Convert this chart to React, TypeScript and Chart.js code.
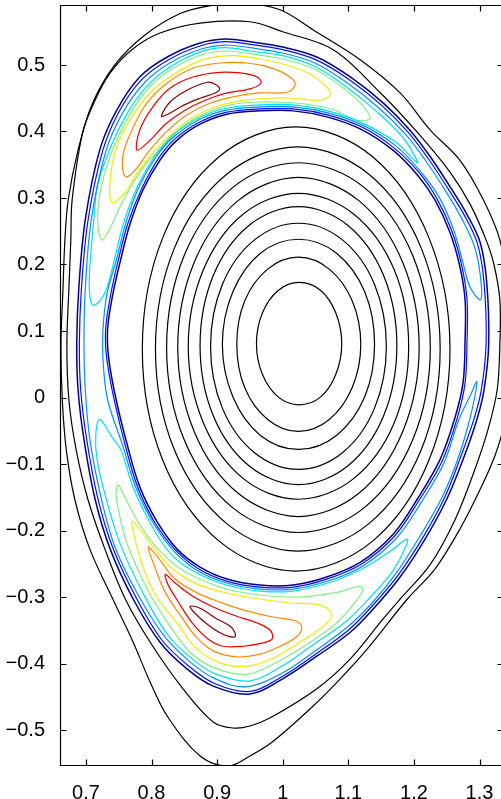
import React, { useEffect, useRef } from 'react';
import { Chart, registerables } from 'chart.js';

Chart.register(...registerables);

type Pair = [number, number];

// ---- axes ----
const xTickValues = [0.7, 0.8, 0.9, 1.0, 1.1, 1.2, 1.3];
const yTickValues = [-0.5, -0.4, -0.3, -0.2, -0.1, 0, 0.1, 0.2, 0.3, 0.4, 0.5];
const xLimits: Pair = [0.6605, 1.3358];
const yLimits: Pair = [-0.5541, 0.5902];

// ---- black flux surfaces (R, Z) ----
const surf1: Pair[] = [[1.090,0.081],[1.081,0.127],[1.058,0.161],[1.025,0.173],[0.993,0.161],[0.969,0.127],[0.960,0.081],[0.969,0.035],[0.993,0.001],[1.025,-0.011],[1.058,0.001],[1.081,0.035]];
const surf2: Pair[] = [[1.119,0.080],[1.106,0.145],[1.071,0.193],[1.024,0.211],[0.977,0.193],[0.942,0.145],[0.930,0.080],[0.942,0.015],[0.977,-0.033],[1.024,-0.051],[1.071,-0.033],[1.106,0.015]];
const surf3: Pair[] = [[1.140,0.080],[1.125,0.159],[1.082,0.217],[1.024,0.238],[0.966,0.217],[0.924,0.159],[0.908,0.080],[0.924,0.001],[0.966,-0.057],[1.024,-0.078],[1.082,-0.057],[1.125,0.001]];
const surf4: Pair[] = [[1.158,0.077],[1.140,0.170],[1.091,0.237],[1.024,0.262],[0.957,0.237],[0.908,0.170],[0.890,0.077],[0.908,-0.016],[0.957,-0.083],[1.024,-0.108],[1.091,-0.083],[1.140,-0.016]];
const surf5: Pair[] = [[1.174,0.078],[1.154,0.183],[1.099,0.259],[1.024,0.287],[0.949,0.259],[0.894,0.183],[0.874,0.078],[0.894,-0.027],[0.949,-0.103],[1.024,-0.131],[1.099,-0.103],[1.154,-0.027]];
const surf6: Pair[] = [[1.192,0.077],[1.170,0.192],[1.108,0.276],[1.024,0.307],[0.940,0.276],[0.879,0.192],[0.856,0.077],[0.879,-0.038],[0.940,-0.122],[1.024,-0.153],[1.108,-0.122],[1.170,-0.038]];
const surf7: Pair[] = [[1.208,0.076],[1.183,0.203],[1.116,0.296],[1.024,0.331],[0.932,0.296],[0.865,0.203],[0.840,0.076],[0.865,-0.051],[0.932,-0.144],[1.024,-0.179],[1.116,-0.144],[1.183,-0.051]];
const surf8: Pair[] = [[1.225,0.075],[1.198,0.214],[1.124,0.316],[1.024,0.353],[0.924,0.316],[0.850,0.214],[0.823,0.075],[0.850,-0.064],[0.924,-0.166],[1.024,-0.203],[1.124,-0.166],[1.198,-0.064]];
const surf9: Pair[] = [[1.240,0.073],[1.211,0.225],[1.131,0.336],[1.023,0.377],[0.915,0.336],[0.835,0.225],[0.806,0.073],[0.835,-0.079],[0.915,-0.190],[1.023,-0.231],[1.131,-0.190],[1.211,-0.079]];
const surf10: Pair[] = [[1.255,0.073],[1.223,0.240],[1.137,0.362],[1.020,0.407],[0.903,0.362],[0.817,0.240],[0.786,0.073],[0.817,-0.094],[0.903,-0.216],[1.020,-0.261],[1.137,-0.216],[1.223,-0.094]];

const outer1: Pair[] = [[0.662,0.080],[0.665,0.162],[0.668,0.237],[0.673,0.297],[0.688,0.372],[0.709,0.440],[0.744,0.500],[0.790,0.545],[0.843,0.577],[0.894,0.590],[0.942,0.593],[0.996,0.583],[1.046,0.553],[1.118,0.508],[1.179,0.458],[1.225,0.402],[1.270,0.357],[1.306,0.297],[1.331,0.237],[1.343,0.162],[1.346,0.080],[1.339,-0.033],[1.324,-0.086],[1.301,-0.138],[1.270,-0.198],[1.232,-0.258],[1.190,-0.303],[1.129,-0.378],[1.083,-0.428],[1.042,-0.468],[0.984,-0.518],[0.950,-0.539],[0.917,-0.554],[0.874,-0.539],[0.824,-0.479],[0.798,-0.428],[0.772,-0.368],[0.741,-0.303],[0.706,-0.228],[0.683,-0.153],[0.670,-0.078],[0.664,-0.003]];
const outer2: Pair[] = [[0.671,0.080],[0.674,0.162],[0.677,0.237],[0.679,0.297],[0.695,0.398],[0.714,0.447],[0.737,0.488],[0.770,0.523],[0.813,0.548],[0.874,0.563],[0.950,0.565],[1.000,0.550],[1.077,0.523],[1.148,0.459],[1.205,0.399],[1.255,0.339],[1.286,0.290],[1.310,0.237],[1.322,0.200],[1.331,0.147],[1.331,0.080],[1.327,0.012],[1.313,-0.048],[1.293,-0.108],[1.263,-0.183],[1.225,-0.251],[1.179,-0.303],[1.153,-0.333],[1.103,-0.393],[1.052,-0.438],[0.984,-0.480],[0.950,-0.494],[0.924,-0.497],[0.894,-0.488],[0.848,-0.438],[0.798,-0.368],[0.760,-0.303],[0.729,-0.228],[0.703,-0.153],[0.685,-0.078],[0.674,-0.003]];

// ---- coloured contour levels ----
const navyOuter: Pair[] = [[0.950,0.535],[1.000,0.527],[1.052,0.512],[1.103,0.482],[1.153,0.443],[1.194,0.402],[1.225,0.362],[1.255,0.317],[1.281,0.275],[1.301,0.233],[1.311,0.173],[1.314,0.080],[1.307,0.012],[1.296,-0.033],[1.275,-0.093],[1.250,-0.153],[1.217,-0.213],[1.179,-0.270],[1.138,-0.318],[1.103,-0.353],[1.052,-0.389],[1.000,-0.423],[0.950,-0.446],[0.894,-0.434],[0.854,-0.408],[0.813,-0.368],[0.772,-0.303],[0.737,-0.228],[0.714,-0.153],[0.697,-0.063],[0.688,0.012],[0.686,0.080],[0.689,0.162],[0.699,0.267],[0.721,0.372],[0.747,0.432],[0.782,0.482],[0.824,0.512],[0.874,0.533],[0.912,0.539]];
const blueOuter: Pair[] = [[0.950,0.531],[1.000,0.523],[1.050,0.508],[1.100,0.479],[1.150,0.440],[1.191,0.399],[1.222,0.359],[1.252,0.314],[1.278,0.272],[1.297,0.231],[1.307,0.172],[1.310,0.080],[1.303,0.013],[1.292,-0.031],[1.271,-0.090],[1.247,-0.150],[1.214,-0.210],[1.176,-0.267],[1.135,-0.315],[1.100,-0.350],[1.050,-0.386],[1.000,-0.419],[0.950,-0.442],[0.896,-0.430],[0.857,-0.404],[0.816,-0.365],[0.776,-0.300],[0.741,-0.226],[0.718,-0.151],[0.701,-0.062],[0.692,0.012],[0.690,0.080],[0.693,0.161],[0.703,0.265],[0.725,0.369],[0.750,0.429],[0.785,0.478],[0.826,0.508],[0.875,0.529],[0.912,0.535]];
const navyInner: Pair[] = [[0.915,0.426],[0.965,0.431],[1.016,0.431],[1.067,0.422],[1.118,0.404],[1.168,0.372],[1.205,0.335],[1.232,0.297],[1.255,0.248],[1.270,0.197],[1.278,0.147],[1.278,0.087],[1.275,0.023],[1.263,-0.029],[1.240,-0.093],[1.205,-0.153],[1.168,-0.206],[1.118,-0.248],[1.067,-0.270],[1.016,-0.282],[0.965,-0.282],[0.915,-0.273],[0.874,-0.255],[0.839,-0.228],[0.808,-0.186],[0.782,-0.134],[0.763,-0.071],[0.746,-0.003],[0.735,0.057],[0.733,0.102],[0.741,0.155],[0.753,0.207],[0.767,0.260],[0.787,0.312],[0.813,0.357],[0.839,0.387],[0.874,0.411]];
const blueInner: Pair[] = [[0.915,0.429],[0.965,0.434],[1.016,0.434],[1.068,0.425],[1.120,0.407],[1.170,0.375],[1.208,0.338],[1.235,0.299],[1.258,0.250],[1.273,0.198],[1.281,0.147],[1.281,0.087],[1.278,0.022],[1.266,-0.031],[1.243,-0.096],[1.207,-0.156],[1.170,-0.209],[1.119,-0.251],[1.067,-0.273],[1.016,-0.285],[0.965,-0.285],[0.914,-0.276],[0.872,-0.258],[0.837,-0.230],[0.805,-0.188],[0.779,-0.135],[0.760,-0.072],[0.743,-0.003],[0.732,0.057],[0.730,0.102],[0.738,0.156],[0.750,0.209],[0.764,0.262],[0.785,0.314],[0.811,0.360],[0.837,0.390],[0.873,0.414]];
const azureBand: Pair[] = [[1.302,0.147],[1.301,0.185],[1.292,0.228],[1.273,0.269],[1.248,0.311],[1.218,0.356],[1.188,0.395],[1.147,0.435],[1.097,0.474],[1.049,0.503],[1.000,0.518],[0.950,0.526],[0.912,0.530],[0.876,0.524],[0.828,0.503],[0.790,0.474],[0.756,0.428],[0.730,0.369],[0.708,0.266],[0.699,0.162],[0.697,0.080],[0.699,0.012],[0.706,-0.063],[0.723,-0.150],[0.744,-0.224],[0.778,-0.294],[0.818,-0.357],[0.857,-0.396],[0.895,-0.422],[0.943,-0.435],[1.000,-0.414],[1.051,-0.380],[1.100,-0.344],[1.136,-0.309],[1.173,-0.264],[1.209,-0.209],[1.242,-0.152],[1.266,-0.095],[1.283,-0.041],[1.292,-0.003],[1.296,0.024],[1.286,0.003],[1.269,-0.032],[1.246,-0.098],[1.211,-0.158],[1.173,-0.212],[1.121,-0.254],[1.069,-0.276],[1.016,-0.288],[0.965,-0.288],[0.914,-0.279],[0.871,-0.261],[0.836,-0.233],[0.804,-0.191],[0.776,-0.135],[0.756,-0.072],[0.733,-0.003],[0.726,0.057],[0.726,0.102],[0.732,0.155],[0.747,0.209],[0.761,0.263],[0.781,0.317],[0.807,0.362],[0.834,0.392],[0.871,0.417],[0.914,0.432],[0.965,0.437],[1.016,0.437],[1.069,0.428],[1.121,0.410],[1.173,0.378],[1.209,0.341],[1.238,0.302],[1.261,0.251],[1.276,0.198],[1.286,0.165]];
const cyanTop: Pair[] = [[0.709,0.140],[0.705,0.170],[0.708,0.222],[0.712,0.266],[0.717,0.315],[0.733,0.365],[0.760,0.422],[0.792,0.467],[0.830,0.498],[0.876,0.520],[0.912,0.526],[0.950,0.521],[1.000,0.514],[1.048,0.498],[1.093,0.470],[1.142,0.431],[1.184,0.390],[1.206,0.353],[1.194,0.363],[1.174,0.383],[1.121,0.413],[1.069,0.431],[1.016,0.440],[0.965,0.440],[0.914,0.435],[0.871,0.420],[0.833,0.395],[0.805,0.363],[0.779,0.318],[0.758,0.264],[0.744,0.210],[0.731,0.162],[0.717,0.141]];
const cyanBottom: Pair[] = [[0.721,-0.033],[0.740,-0.060],[0.753,-0.078],[0.773,-0.138],[0.801,-0.194],[0.831,-0.237],[0.869,-0.264],[0.914,-0.282],[0.965,-0.291],[1.016,-0.291],[1.069,-0.279],[1.122,-0.257],[1.164,-0.231],[1.190,-0.213],[1.182,-0.236],[1.164,-0.266],[1.129,-0.305],[1.095,-0.338],[1.046,-0.372],[0.997,-0.405],[0.950,-0.426],[0.898,-0.416],[0.862,-0.393],[0.824,-0.356],[0.787,-0.294],[0.753,-0.222],[0.731,-0.153],[0.717,-0.093],[0.715,-0.056]];
const greenTop: Pair[] = [[0.724,0.237],[0.718,0.272],[0.723,0.315],[0.737,0.363],[0.763,0.419],[0.795,0.465],[0.831,0.494],[0.876,0.515],[0.912,0.521],[0.950,0.517],[1.000,0.509],[1.048,0.494],[1.090,0.467],[1.118,0.443],[1.133,0.420],[1.113,0.417],[1.077,0.433],[1.037,0.441],[0.996,0.444],[0.955,0.444],[0.915,0.439],[0.879,0.426],[0.848,0.408],[0.818,0.378],[0.793,0.353],[0.772,0.323],[0.752,0.287],[0.737,0.255]];
const greenBottom: Pair[] = [[0.749,-0.131],[0.761,-0.153],[0.782,-0.191],[0.810,-0.228],[0.843,-0.257],[0.874,-0.273],[0.914,-0.288],[0.965,-0.297],[1.026,-0.300],[1.083,-0.293],[1.118,-0.284],[1.122,-0.291],[1.107,-0.312],[1.080,-0.341],[1.037,-0.371],[0.991,-0.398],[0.946,-0.416],[0.900,-0.408],[0.862,-0.386],[0.831,-0.348],[0.795,-0.291],[0.763,-0.221],[0.751,-0.176],[0.746,-0.146]];
const yellowTop: Pair[] = [[0.740,0.293],[0.737,0.327],[0.747,0.377],[0.770,0.422],[0.802,0.462],[0.839,0.489],[0.879,0.508],[0.924,0.514],[0.965,0.509],[1.006,0.500],[1.042,0.486],[1.067,0.467],[1.072,0.455],[1.057,0.447],[1.016,0.450],[0.976,0.450],[0.935,0.446],[0.900,0.438],[0.866,0.423],[0.836,0.401],[0.805,0.371],[0.779,0.339],[0.760,0.309]];
const yellowBottom: Pair[] = [[0.770,-0.186],[0.782,-0.198],[0.805,-0.228],[0.836,-0.261],[0.871,-0.281],[0.914,-0.294],[0.965,-0.303],[1.011,-0.309],[1.057,-0.312],[1.075,-0.326],[1.062,-0.344],[1.026,-0.368],[0.985,-0.392],[0.946,-0.404],[0.904,-0.399],[0.866,-0.375],[0.839,-0.339],[0.808,-0.300],[0.787,-0.255],[0.775,-0.213]];
const orangeTop: Pair[] = [[0.760,0.332],[0.756,0.362],[0.770,0.402],[0.793,0.443],[0.824,0.473],[0.863,0.495],[0.904,0.503],[0.946,0.503],[0.985,0.495],[1.011,0.482],[1.019,0.470],[1.007,0.459],[0.965,0.458],[0.924,0.452],[0.885,0.441],[0.851,0.423],[0.821,0.398],[0.795,0.369],[0.775,0.342]];
const orangeBottom: Pair[] = [[0.795,-0.225],[0.807,-0.237],[0.836,-0.273],[0.868,-0.293],[0.905,-0.308],[0.942,-0.320],[0.985,-0.330],[1.020,-0.336],[1.029,-0.345],[1.022,-0.359],[0.996,-0.374],[0.965,-0.386],[0.930,-0.390],[0.894,-0.381],[0.868,-0.360],[0.845,-0.329],[0.821,-0.293],[0.805,-0.255]];
const redTop: Pair[] = [[0.778,0.372],[0.782,0.402],[0.802,0.437],[0.828,0.465],[0.863,0.482],[0.904,0.489],[0.935,0.488],[0.961,0.482],[0.967,0.473],[0.950,0.464],[0.915,0.458],[0.882,0.447],[0.851,0.432],[0.821,0.411],[0.798,0.387]];
const redBottom: Pair[] = [[0.821,-0.266],[0.836,-0.279],[0.863,-0.299],[0.894,-0.315],[0.930,-0.329],[0.961,-0.339],[0.981,-0.350],[0.984,-0.363],[0.970,-0.369],[0.940,-0.374],[0.909,-0.374],[0.886,-0.363],[0.862,-0.339],[0.840,-0.306],[0.825,-0.281]];
const darkRedTop: Pair[] = [[0.815,0.423],[0.828,0.444],[0.854,0.462],[0.885,0.474],[0.897,0.471],[0.904,0.464],[0.897,0.458],[0.874,0.450],[0.850,0.440],[0.825,0.426]];
const darkRedBottom: Pair[] = [[0.859,-0.314],[0.874,-0.317],[0.900,-0.333],[0.920,-0.344],[0.927,-0.353],[0.927,-0.360],[0.909,-0.356],[0.885,-0.341],[0.863,-0.321]];

const COLORS = {
  black: '#000000',
  navy: '#00008c',
  blue: '#0010ff',
  azure: '#0090ff',
  cyan: '#00e0f0',
  green: '#80f080',
  yellow: '#f0ec00',
  orange: '#ff8a00',
  red: '#f00000',
  darkRed: '#850000',
};

const contours: { pts: Pair[]; color: string; width?: number }[] = [
  { pts: outer1, color: COLORS.black },
  { pts: outer2, color: COLORS.black },
  { pts: surf1, color: COLORS.black },
  { pts: surf2, color: COLORS.black },
  { pts: surf3, color: COLORS.black },
  { pts: surf4, color: COLORS.black },
  { pts: surf5, color: COLORS.black },
  { pts: surf6, color: COLORS.black },
  { pts: surf7, color: COLORS.black },
  { pts: surf8, color: COLORS.black },
  { pts: surf9, color: COLORS.black },
  { pts: surf10, color: COLORS.black },
  { pts: navyOuter, color: COLORS.navy, width: 1.5 },
  { pts: navyInner, color: COLORS.navy, width: 1.5 },
  { pts: blueOuter, color: COLORS.blue },
  { pts: blueInner, color: COLORS.blue },
  { pts: azureBand, color: COLORS.azure },
  { pts: cyanTop, color: COLORS.cyan },
  { pts: cyanBottom, color: COLORS.cyan },
  { pts: greenTop, color: COLORS.green },
  { pts: greenBottom, color: COLORS.green },
  { pts: yellowTop, color: COLORS.yellow },
  { pts: yellowBottom, color: COLORS.yellow },
  { pts: orangeTop, color: COLORS.orange },
  { pts: orangeBottom, color: COLORS.orange },
  { pts: redTop, color: COLORS.red },
  { pts: redBottom, color: COLORS.red },
  { pts: darkRedTop, color: COLORS.darkRed },
  { pts: darkRedBottom, color: COLORS.darkRed },
];

const FONT = '"Liberation Sans", Arial, Helvetica, sans-serif';

const fmt = (v: number) => {
  const n = Math.round(v * 10) / 10;
  return (n < 0 ? '\u2212' : '') + String(Math.abs(n));
};

// make every contour a closed smooth loop (same mechanism the radar chart uses)
const closedLoops = {
  id: 'closedLoops',
  afterDatasetsUpdate(chart: any) {
    chart.data.datasets.forEach((_: any, i: number) => {
      const line: any = chart.getDatasetMeta(i).dataset;
      if (!line) return;
      line._loop = true;
      line._fullLoop = true;
      line._pointsUpdated = false;
      line._segments = undefined;
      line._path = undefined;
      if (typeof line.updateControlPoints === 'function') {
        line.updateControlPoints(chart.chartArea, 'x');
      }
    });
  },
};

// MATLAB-like box with inward ticks on all four sides
const boxFrame = {
  id: 'boxFrame',
  afterDraw(chart: any) {
    const { ctx, chartArea: a, scales } = chart;
    const xs = scales.x;
    const ys = scales.y;
    const L = Math.round(a.left) + 0.5;
    const R = Math.round(a.right) + 0.5;
    const T = Math.round(a.top) + 0.5;
    const B = Math.round(a.bottom) - 0.5;
    const len = 6;
    ctx.save();
    ctx.strokeStyle = '#000';
    ctx.lineWidth = 1.2;
    ctx.beginPath();
    ctx.rect(L, T, R - L, B - T);
    xTickValues.forEach((v) => {
      const p = Math.round(xs.getPixelForValue(v)) + 0.5;
      ctx.moveTo(p, B);
      ctx.lineTo(p, B - len);
      ctx.moveTo(p, T);
      ctx.lineTo(p, T + len);
    });
    yTickValues.forEach((v) => {
      const p = Math.round(ys.getPixelForValue(v)) + 0.5;
      ctx.moveTo(L, p);
      ctx.lineTo(L + len, p);
      ctx.moveTo(R, p);
      ctx.lineTo(R - len, p);
    });
    ctx.stroke();
    ctx.restore();
  },
};

export default function App() {
  const ref = useRef<HTMLCanvasElement | null>(null);

  useEffect(() => {
    const canvas = ref.current;
    if (!canvas) return;
    const chart = new Chart(canvas, {
      type: 'scatter',
      data: {
        datasets: contours.map((c) => ({
          data: c.pts.map(([x, y]) => ({ x, y })),
          borderColor: c.color,
          backgroundColor: c.color,
          borderWidth: c.width ?? 1.2,
          showLine: true,
          tension: 0.35,
          pointRadius: 0,
          pointHoverRadius: 0,
          fill: false,
        })) as any,
      },
      options: {
        animation: false,
        responsive: false,
        devicePixelRatio: 1,
        events: [],
        layout: { padding: { left: 0, top: 5, right: 7, bottom: 0 } },
        elements: { line: { capBezierPoints: false } as any },
        plugins: { legend: { display: false }, tooltip: { enabled: false }, title: { display: false } },
        scales: {
          x: {
            type: 'linear',
            position: 'bottom',
            min: xLimits[0],
            max: xLimits[1],
            grid: { display: false },
            border: { display: false },
            afterBuildTicks: (s: any) => { s.ticks = xTickValues.map((value) => ({ value })); },
            afterFit: (s: any) => { s.height = 33; s.paddingLeft = 0; s.paddingRight = 0; s.paddingTop = 0; s.paddingBottom = 0; },
            ticks: {
              autoSkip: false,
              maxRotation: 0,
              padding: 7,
              color: '#000',
              font: { family: FONT, size: 20 },
              callback: (v: any) => fmt(Number(v)),
            },
          },
          y: {
            type: 'linear',
            position: 'left',
            min: yLimits[0],
            max: yLimits[1],
            grid: { display: false },
            border: { display: false },
            afterBuildTicks: (s: any) => { s.ticks = yTickValues.map((value) => ({ value })); },
            afterFit: (s: any) => { s.width = 60; s.paddingLeft = 0; s.paddingRight = 0; s.paddingTop = 0; s.paddingBottom = 0; },
            ticks: {
              autoSkip: false,
              padding: 7,
              color: '#000',
              font: { family: FONT, size: 20 },
              callback: (v: any) => fmt(Number(v)),
            },
          },
        },
      } as any,
      plugins: [closedLoops, boxFrame],
    });
    return () => chart.destroy();
  }, []);

  return (
    <div style={{ position: 'fixed', left: 0, top: 0, width: 501, height: 799, overflow: 'hidden', background: '#fff' }}>
      <canvas ref={ref} width={510} height={799} style={{ display: 'block', width: 510, height: 799 }} />
    </div>
  );
}
